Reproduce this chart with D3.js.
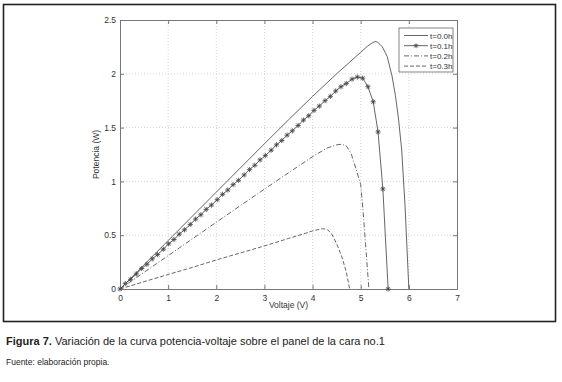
<!DOCTYPE html>
<html>
<head>
<meta charset="utf-8">
<script src="https://cdn.jsdelivr.net/npm/d3@7"></script>
<style>
  html, body { margin: 0; padding: 0; background: #fff; }
  svg { display: block; font-family: "Liberation Sans", Arial, sans-serif; }
</style>
</head>
<body>
<div id="chart"></div>
<script>
// Values
const xTicks = [0, 1, 2, 3, 4, 5, 6, 7];
const yTicks = [0, 0.5, 1, 1.5, 2, 2.5];
const seriesLabels = ["t=0.0h", "t=0.1h", "t=0.2h", "t=0.3h"];

const voltageT0 = [0, 0.5, 1, 1.5, 2, 2.5, 3, 3.5, 4, 4.5, 4.8, 5.0, 5.15, 5.25, 5.3, 5.35, 5.45, 5.55, 5.65, 5.72, 5.78, 5.85, 5.92, 6.0];
const powerT0 = [0, 0.225, 0.45, 0.675, 0.9, 1.125, 1.35, 1.572, 1.79, 2.0, 2.12, 2.2, 2.26, 2.29, 2.3, 2.295, 2.25, 2.16, 1.98, 1.8, 1.6, 1.3, 0.78, 0];

const voltageT1 = [0, 0.11, 0.22, 0.34, 0.45, 0.56, 0.67, 0.78, 0.9, 1.01, 1.12, 1.23, 1.34, 1.46, 1.57, 1.68, 1.79, 1.9, 2.02, 2.13, 2.24, 2.35, 2.46, 2.58, 2.69, 2.8, 2.91, 3.02, 3.14, 3.25, 3.36, 3.47, 3.58, 3.7, 3.81, 3.92, 4.03, 4.14, 4.26, 4.37, 4.48, 4.59, 4.7, 4.82, 4.93, 5.04, 5.15, 5.26, 5.36, 5.46, 5.57];
const powerT1 = [0, 0.05, 0.09, 0.14, 0.19, 0.23, 0.28, 0.32, 0.37, 0.42, 0.46, 0.51, 0.55, 0.6, 0.65, 0.69, 0.74, 0.78, 0.83, 0.88, 0.92, 0.97, 1.01, 1.06, 1.11, 1.15, 1.2, 1.24, 1.29, 1.34, 1.38, 1.43, 1.47, 1.52, 1.57, 1.61, 1.66, 1.7, 1.75, 1.79, 1.84, 1.88, 1.91, 1.95, 1.97, 1.96, 1.88, 1.74, 1.46, 0.93, 0];

const voltageT2 = [0, 0.5, 1, 1.5, 2, 2.5, 3, 3.5, 4, 4.3, 4.5, 4.6, 4.7, 4.8, 4.9, 5.0, 5.05, 5.1, 5.15, 5.17];
const powerT2 = [0, 0.155, 0.31, 0.465, 0.62, 0.775, 0.928, 1.08, 1.23, 1.31, 1.34, 1.345, 1.33, 1.26, 1.12, 0.97, 0.72, 0.42, 0.12, 0];

const voltageT3 = [0, 0.5, 1, 1.5, 2, 2.5, 3, 3.5, 3.8, 4.0, 4.2, 4.3, 4.4, 4.5, 4.6, 4.7, 4.77];
const powerT3 = [0, 0.068, 0.135, 0.2, 0.27, 0.335, 0.4, 0.47, 0.51, 0.54, 0.56, 0.555, 0.51, 0.42, 0.31, 0.16, 0];

const width = 562;
const height = 382;
const margin = { top: 20, right: 105, bottom: 93, left: 120 };

const svg = d3.select("#chart").append("svg")
  .attr("width", width)
  .attr("height", height);

// outer figure frame
svg.append("rect")
  .attr("x", 3.5).attr("y", 4.5)
  .attr("width", 552).attr("height", 317)
  .attr("fill", "none")
  .attr("stroke", "#222")
  .attr("stroke-width", 1.6);

const x = d3.scaleLinear().domain([0, 7]).range([margin.left, width - margin.right]);
const y = d3.scaleLinear().domain([0, 2.5]).range([height - margin.bottom, margin.top]);

const plotLeft = x(0), plotRight = x(7), plotTop = y(2.5), plotBottom = y(0);

// grid
const grid = svg.append("g").attr("stroke", "#bbb").attr("stroke-width", 0.6).attr("stroke-dasharray", "1 2");
xTicks.slice(1, -1).forEach((t) => {
  grid.append("line").attr("x1", x(t)).attr("x2", x(t)).attr("y1", plotTop).attr("y2", plotBottom);
});
yTicks.slice(1, -1).forEach((t) => {
  grid.append("line").attr("x1", plotLeft).attr("x2", plotRight).attr("y1", y(t)).attr("y2", y(t));
});

// axes with inward ticks
const xAxis = svg.append("g")
  .attr("transform", `translate(0, ${plotBottom})`)
  .call(d3.axisBottom(x).tickValues(xTicks).tickSize(-4).tickPadding(6).tickFormat(d3.format("d")));
const xAxisTop = svg.append("g")
  .attr("transform", `translate(0, ${plotTop})`)
  .call(d3.axisTop(x).tickValues(xTicks).tickSize(-4).tickFormat(""));
const yAxis = svg.append("g")
  .attr("transform", `translate(${plotLeft}, 0)`)
  .call(d3.axisLeft(y).tickValues(yTicks).tickSize(-4).tickPadding(4).tickFormat((d) => String(d)));
const yAxisRight = svg.append("g")
  .attr("transform", `translate(${plotRight}, 0)`)
  .call(d3.axisRight(y).tickValues(yTicks).tickSize(-4).tickFormat(""));

[xAxis, xAxisTop, yAxis, yAxisRight].forEach((g) => {
  g.select(".domain").attr("stroke", "#777").attr("stroke-width", 1);
  g.selectAll(".tick line").attr("stroke", "#777");
  g.selectAll(".tick text").attr("fill", "#333").attr("font-size", 8.5);
});

svg.append("text")
  .attr("x", (plotLeft + plotRight) / 2)
  .attr("y", plotBottom + 19)
  .attr("text-anchor", "middle")
  .attr("font-size", 8.5)
  .attr("fill", "#333")
  .text("Voltaje (V)");

svg.append("text")
  .attr("transform", "rotate(-90)")
  .attr("x", -(plotTop + plotBottom) / 2)
  .attr("y", plotLeft - 21)
  .attr("text-anchor", "middle")
  .attr("font-size", 8.5)
  .attr("fill", "#333")
  .text("Potencia (W)");

// curves
const lineGen = d3.line().x((d) => x(d[0])).y((d) => y(d[1]));
const curveColor = "#555";

const series = [
  { v: voltageT0, p: powerT0, dash: null },
  { v: voltageT1, p: powerT1, dash: null, markers: true },
  { v: voltageT2, p: powerT2, dash: "5 2 1 2" },
  { v: voltageT3, p: powerT3, dash: "4 2" },
];

function asteriskPath(cx, cy, r) {
  const d = r * 0.72;
  return `M${cx - r},${cy}L${cx + r},${cy}M${cx},${cy - r}L${cx},${cy + r}` +
    `M${cx - d},${cy - d}L${cx + d},${cy + d}M${cx - d},${cy + d}L${cx + d},${cy - d}`;
}

series.forEach((s) => {
  const pts = s.v.map((v, i) => [v, s.p[i]]);
  svg.append("path")
    .datum(pts)
    .attr("fill", "none")
    .attr("stroke", curveColor)
    .attr("stroke-width", 0.9)
    .attr("stroke-dasharray", s.dash)
    .attr("d", lineGen);
  if (s.markers) {
    svg.append("g").selectAll("path")
      .data(pts)
      .join("path")
      .attr("d", (d) => asteriskPath(x(d[0]), y(d[1]), 2.6))
      .attr("stroke", "#444")
      .attr("stroke-width", 0.8)
      .attr("fill", "none");
  }
});

// legend
const legend = svg.append("g").attr("transform", "translate(399, 28)");
legend.append("rect")
  .attr("width", 54).attr("height", 44)
  .attr("fill", "#fff")
  .attr("stroke", "#666")
  .attr("stroke-width", 0.8);
series.forEach((s, i) => {
  const ly = 7.5 + i * 10.2;
  legend.append("line")
    .attr("x1", 5).attr("x2", 29)
    .attr("y1", ly).attr("y2", ly)
    .attr("stroke", curveColor)
    .attr("stroke-width", 0.9)
    .attr("stroke-dasharray", s.dash);
  if (s.markers) {
    legend.append("path")
      .attr("d", asteriskPath(17, ly, 2.4))
      .attr("stroke", "#444")
      .attr("stroke-width", 0.8);
  }
  legend.append("text")
    .attr("x", 31).attr("y", ly + 3)
    .attr("font-size", 8)
    .attr("fill", "#333")
    .text(seriesLabels[i]);
});

// caption
const caption = svg.append("text")
  .attr("x", 6).attr("y", 345)
  .attr("font-size", 11)
  .attr("fill", "#222");
caption.append("tspan").attr("font-weight", "bold").text("Figura 7.");
caption.append("tspan").text(" Variación de la curva potencia-voltaje sobre el panel de la cara no.1");

svg.append("text")
  .attr("x", 6).attr("y", 365)
  .attr("font-size", 8.5)
  .attr("fill", "#222")
  .text("Fuente: elaboración propia.");
</script>
</body>
</html>
